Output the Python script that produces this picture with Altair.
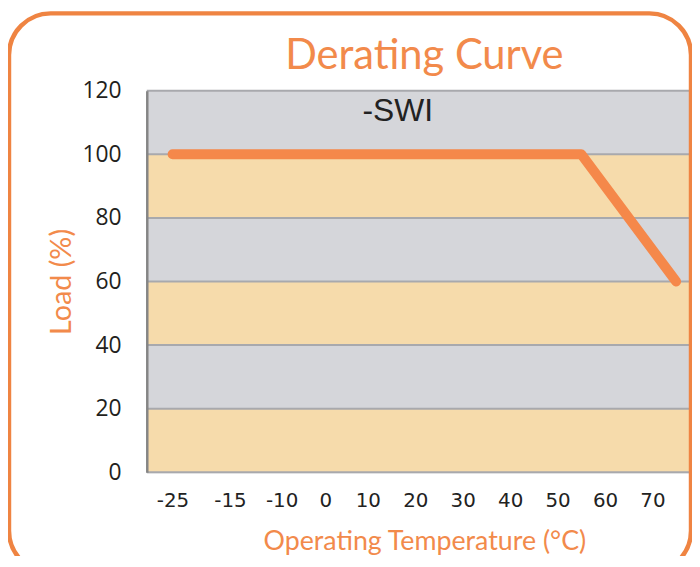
import altair as alt
import pandas as pd

# Data
temps = [-25, 55, 75]
loads = [100, 100, 60]
x_tick_labels = [-25, -15, -10, 0, 10, 20, 30, 40, 50, 60, 70]
y_ticks = [0, 20, 40, 60, 80, 100, 120]
band_lo = [0, 20, 40, 60, 80, 100]
band_hi = [20, 40, 60, 80, 100, 120]
band_kind = ["beige", "gray", "beige", "gray", "beige", "gray"]

W, H = 550, 385
ORANGE = "#F5884A"
TITLE_OR = "#F28A4B"

line_df = pd.DataFrame({"temp": temps, "load": loads})
band_df = pd.DataFrame({"lo": band_lo, "hi": band_hi, "kind": band_kind})
grid_df = pd.DataFrame({"v": y_ticks})

# piecewise x scale reproducing the reference's uneven temperature axis
x_scale = alt.Scale(
    type="linear",
    domain=[-25, -15, -10, 0, 10, 75],
    range=[26, 84, 136, 180, 223, 534],
    nice=False,
    zero=False,
)
y_scale = alt.Scale(domain=[0, 120], nice=False, zero=True)

x_axis = alt.Axis(
    values=x_tick_labels,
    title="Operating Temperature (°C)",
    labelExpr="'' + datum.value",
    ticks=False,
    domain=False,
    grid=False,
    labelFont="DejaVu Sans",
    labelFontSize=20,
    labelColor="#222222",
    labelPadding=18,
    labelFlush=False,
    labelOverlap=False,
    titleFont="Lato",
    titleFontSize=27,
    titleFontWeight="normal",
    titleColor=TITLE_OR,
    titlePadding=19,
)
y_axis = alt.Axis(
    values=y_ticks,
    title="Load (%)",
    ticks=False,
    grid=False,
    domainColor="#858585",
    domainWidth=2.5,
    labelFont="Open Sans",
    labelFontSize=23,
    labelColor="#231F20",
    labelPadding=26,
    titleFont="Lato",
    titleFontSize=29,
    titleFontWeight="normal",
    titleColor=TITLE_OR,
    titlePadding=5,
    zindex=1,
)

bands = alt.Chart(band_df).mark_rect().encode(
    y=alt.Y("lo:Q", scale=y_scale, axis=y_axis),
    y2="hi:Q",
    color=alt.Color(
        "kind:N",
        scale=alt.Scale(domain=["beige", "gray"], range=["#F6DBAB", "#D5D6DA"]),
        legend=None,
    ),
)

grid = alt.Chart(grid_df).mark_rule(color="#A8A9AD", strokeWidth=2).encode(
    y=alt.Y("v:Q", scale=y_scale)
)

line = alt.Chart(line_df).mark_line(
    color=ORANGE, strokeWidth=10, strokeCap="round", strokeJoin="round"
).encode(
    x=alt.X("temp:Q", scale=x_scale, axis=x_axis),
    y=alt.Y("load:Q", scale=y_scale),
)

label = alt.Chart(pd.DataFrame({"t": ["-SWI"]})).mark_text(
    font="Liberation Sans", fontSize=32, color="#222222", baseline="middle"
).encode(
    x=alt.datum(16.3, scale=x_scale),
    y=alt.datum(113.5),
    text="t:N",
)

frame = alt.Chart(pd.DataFrame({"f": [1]})).mark_rect(
    fillOpacity=0, stroke="#EF8442", strokeWidth=4.5, cornerRadius=42
).encode(
    x=alt.value(-139), x2=alt.value(549), y=alt.value(-78), y2=alt.value(486)
)

chart = (
    alt.layer(bands, grid, line, label, frame)
    .properties(
        width=W,
        height=H,
        title=alt.TitleParams(
            "Derating Curve",
            font="Lato",
            fontSize=42,
            fontWeight="normal",
            color=TITLE_OR,
            anchor="middle",
            frame="group",
            baseline="alphabetic",
            offset=-100,
            dx=5,
        ),
        autosize=alt.AutoSizeParams(type="none"),
        padding={"left": 140, "top": 81, "right": 0, "bottom": 82},
    )
    .configure_view(stroke=None)
    .configure(background="white")
)

chart.save("out.html", embed_options={"renderer": "svg", "actions": False})
